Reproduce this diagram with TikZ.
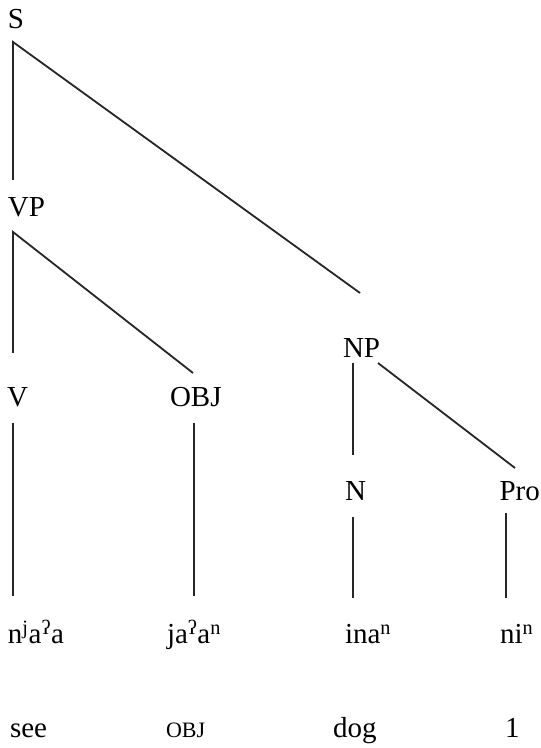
\documentclass[tikz,border=0pt]{standalone}
\usepackage{fontspec}
\setmainfont{Liberation Serif}
\begin{document}
\begin{tikzpicture}[x=1pt,y=1pt,
  lab/.style={anchor=base west,inner sep=0pt,outer sep=0pt,font=\fontsize{29}{32}\selectfont},
  glosssc/.style={anchor=base west,inner sep=0pt,outer sep=0pt,font=\fontsize{22}{24}\selectfont},
  branch/.style={line width=1.8pt,draw=black!85,line cap=butt}]
\useasboundingbox[fill=white] (0,0) rectangle (541,748);
% labels (y = 748 - pixel row of baseline)
\node[lab] (S)   at (8,719)   {S};
\node[lab] (VP)  at (8,531)   {VP};
\node[lab] (V)   at (7,341)   {V};
\node[lab] (OBJ) at (170,341) {OBJ};
\node[lab] (NP)  at (343,390) {NP};
\node[lab] (N)   at (345,247) {N};
\node[lab] (Pro) at (499.5,247) {Pro};
% leaves
\node[lab] (w1) at (8,104)   {n\textsuperscript{j}a\textsuperscript{ʔ}a};
\node[lab] (w2) at (167,104) {ja\textsuperscript{ʔ}a\textsuperscript{n}};
\node[lab] (w3) at (345,104) {ina\textsuperscript{n}};
\node[lab] (w4) at (500,104) {ni\textsuperscript{n}};
% glosses
\node[lab]     (g1) at (10,10)  {see};
\node[glosssc] (g2) at (166,10) {OBJ};
\node[lab]     (g3) at (333,10) {dog};
\node[lab]     (g4) at (505,10) {1};
% line end points
\coordinate (S-a)   at (13,706);
\coordinate (S-b)   at (13,568);
\coordinate (S-c)   at (360,455);
\coordinate (VP-a)  at (13,516);
\coordinate (VP-b)  at (13,395);
\coordinate (VP-c)  at (193,375);
\coordinate (NP-a)  at (353,385);
\coordinate (NP-b)  at (353,293);
\coordinate (NP-c)  at (378,385);
\coordinate (NP-d)  at (515,280);
\coordinate (V-a)   at (13,325);
\coordinate (V-b)   at (13,152);
\coordinate (OBJ-a) at (194,325);
\coordinate (OBJ-b) at (194,152);
\coordinate (N-a)   at (353,231);
\coordinate (N-b)   at (353,150);
\coordinate (Pro-a) at (506,235);
\coordinate (Pro-b) at (506,150);
% branches
\draw[branch] (S-b) -- (S-a) -- (S-c);
\draw[branch] (VP-b) -- (VP-a) -- (VP-c);
\draw[branch] (NP-a) -- (NP-b);
\draw[branch] (NP-c) -- (NP-d);
\draw[branch] (V-a) -- (V-b);
\draw[branch] (OBJ-a) -- (OBJ-b);
\draw[branch] (N-a) -- (N-b);
\draw[branch] (Pro-a) -- (Pro-b);
\end{tikzpicture}
\end{document}
